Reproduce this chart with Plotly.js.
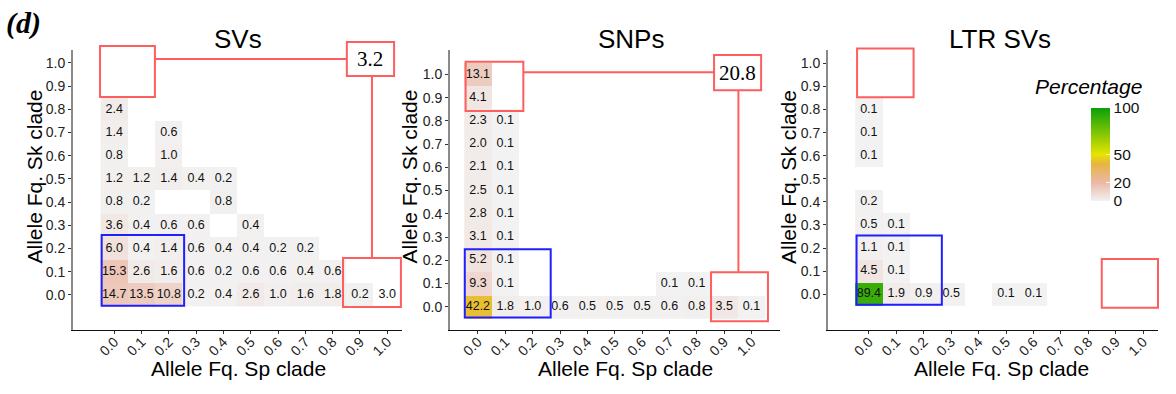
<!DOCTYPE html>
<html><head><meta charset="utf-8">
<script src="https://cdn.plot.ly/plotly-3.0.1.min.js"></script>
<style>html,body{margin:0;padding:0;background:#fff}#chart{width:1176px;height:394px}</style>
</head><body><div id="chart"></div>
<script>
// ---------------- DATA ----------------
const freqs = [0.0,0.1,0.2,0.3,0.4,0.5,0.6,0.7,0.8,0.9,1.0];
const tickLabels = ['0.0','0.1','0.2','0.3','0.4','0.5','0.6','0.7','0.8','0.9','1.0'];
const panelTitles = ['SVs','SNPs','LTR SVs'];
const xTitle = 'Allele Fq. Sp clade';
const yTitle = 'Allele Fq. Sk clade';
const legendTitle = 'Percentage';
const legendTicks = [0,20,50,100];
const cornerTotals = ['3.2','20.8',null];

// rows: Sk clade frequency 0.0 -> 1.0 ; columns: Sp clade frequency 0.0 -> 1.0 (percent)
const svPct = [
  [14.7,13.5,10.8,0.2,0.4,2.6,1.0,1.6,1.8,0.2,3.0],
  [15.3,2.6,1.6,0.6,0.2,0.6,0.6,0.4,0.6],
  [6.0,0.4,1.4,0.6,0.4,0.4,0.2,0.2],
  [3.6,0.4,0.6,0.6,null,0.4],
  [0.8,0.2,null,null,0.8],
  [1.2,1.2,1.4,0.4,0.2],
  [0.8,null,1.0],
  [1.4,null,0.6],
  [2.4],
  [],
  []
];
const snpPct = [
  [42.2,1.8,1.0,0.6,0.5,0.5,0.5,0.6,0.8,3.5,0.1],
  [9.3,0.1,null,null,null,null,null,0.1,0.1],
  [5.2,0.1],
  [3.1,0.1],
  [2.8,0.1],
  [2.5,0.1],
  [2.1,0.1],
  [2.0,0.1],
  [2.3,0.1],
  [4.1],
  [13.1]
];
const ltrPct = [
  [89.4,1.9,0.9,0.5,null,0.1,0.1],
  [4.5,0.1],
  [1.1,0.1],
  [0.5,0.1],
  [0.2],
  [],
  [0.1],
  [0.1],
  [0.1],
  [],
  []
];
// labelled cells drawn without a fill tile in the source figure [x, y]
const unfilledCells = [[[1.0,0.0]],[],[]];

// ---------------- LAYOUT GEOMETRY ----------------
const W = 1176, H = 394;
const FONT = 'Liberation Sans, Arial, sans-serif';
const SERIF = 'Liberation Serif, Times New Roman, serif';
const PANELS = [
  {px:[73,402],  py:[50,330], xr:[-0.151,1.054], yr:[-0.151,1.056], title:[237.5,39], xt:[238.5,368], yt:[34,176.5]},
  {px:[450,780], py:[50,330], xr:[-0.102,1.104], yr:[-0.100,1.105], title:[631,39],   xt:[625,368],   yt:[409,176.5]},
  {px:[828,1158],py:[50,330], xr:[-0.149,1.054], yr:[-0.155,1.058], title:[999.5,39], xt:[1001.5,368],yt:[788,177]}
];
const RED = '#ff5e5e', BLUE = '#1f1fff';
// decoration boxes in each panel's data coordinates
const DECOR = [
  {tl:[-0.052,0.149,0.853,1.073], br:[0.838,1.050,-0.052,0.159], blue:[-0.046,0.256,-0.047,0.259],
   label:[0.852,1.025,0.944,1.090], hy:1.017, vx:0.944},
  {tl:[-0.045,0.166,0.843,1.054], br:[0.852,1.060,-0.062,0.149], blue:[-0.048,0.266,-0.046,0.248],
   label:[0.863,1.035,0.932,1.083], hy:1.009, vx:0.952},
  {tl:[-0.043,0.163,0.853,1.065], br:[0.849,1.054,-0.059,0.153], blue:[-0.045,0.266,-0.046,0.254]}
];

function pad(rows){ return rows.map(r => freqs.map((_,i) => (r[i]===undefined ? null : r[i]))); }
function px2x(p,v){ const d=PANELS[p]; return (d.px[0] + (v-d.xr[0])/(d.xr[1]-d.xr[0])*(d.px[1]-d.px[0]))/W; }
function py2y(p,v){ const d=PANELS[p]; return 1 - (d.py[1] - (v-d.yr[0])/(d.yr[1]-d.yr[0])*(d.py[1]-d.py[0]))/H; }

const datasets = [svPct, snpPct, ltrPct].map(pad);
const colorscale = [[0,'#f2f2f2'],[0.2,'#ebb8a6'],[0.4,'#e8b440'],[0.5,'#e6e400'],[1,'#0aa00a']];

const traces = [];
const layout = {
  width: W, height: H, margin:{l:0,r:0,t:0,b:0,pad:0},
  paper_bgcolor:'#fff', plot_bgcolor:'rgba(0,0,0,0)',
  font:{family:FONT, color:'#000'},
  showlegend:false,
  coloraxis:{cmin:0,cmax:100,colorscale:colorscale,
    colorbar:{x:1091/W, xanchor:'left', y:1-154.5/H, yanchor:'middle', len:93/H, lenmode:'fraction',
      thickness:19, thicknessmode:'pixels', outlinewidth:0, xpad:0, ypad:0,
      tickvals:legendTicks, ticktext:legendTicks.map(String), ticks:'inside', ticklen:4, tickcolor:'rgba(255,255,255,0.9)',
      tickfont:{size:15.5, family:FONT, color:'#111'}, title:{text:''}}},
  shapes:[], annotations:[]
};

datasets.forEach((z, p) => {
  const sfx = p===0 ? '' : String(p+1);
  const d = PANELS[p];
  const zFill = z.map(r => r.slice());
  unfilledCells[p].forEach(([cx,cy]) => { zFill[freqs.indexOf(cy)][freqs.indexOf(cx)] = null; });
  traces.push({type:'heatmap', x:freqs, y:freqs, z:zFill, coloraxis:'coloraxis',
    xaxis:'x'+sfx, yaxis:'y'+sfx, hoverinfo:'skip', xgap:0, ygap:0});
  const tx=[], ty=[], tt=[];
  z.forEach((row, yi) => row.forEach((v, xi) => { if(v!==null){ tx.push(freqs[xi]); ty.push(freqs[yi]); tt.push(v.toFixed(1)); } }));
  traces.push({type:'scatter', mode:'text', x:tx, y:ty, text:tt, xaxis:'x'+sfx, yaxis:'y'+sfx,
    textfont:{size:12.5, family:FONT, color:'#111'}, cliponaxis:false, hoverinfo:'skip'});

  layout['xaxis'+sfx] = {domain:[d.px[0]/W, d.px[1]/W], range:d.xr, anchor:'y'+sfx,
    tickmode:'array', tickvals:freqs, ticktext:tickLabels, tickangle:-45, ticklabelstandoff:-6,
    ticks:'outside', ticklen:3, tickcolor:'#333', tickwidth:1,
    tickfont:{size:14, family:FONT, color:'#222'},
    showline:true, linecolor:'#111', linewidth:1.3, showgrid:false, zeroline:false, fixedrange:true};
  layout['yaxis'+sfx] = {domain:[1-d.py[1]/H, 1-d.py[0]/H], range:d.yr, anchor:'x'+sfx,
    tickmode:'array', tickvals:freqs, ticktext:tickLabels,
    ticks:'outside', ticklen:3, tickcolor:'#333', tickwidth:1,
    tickfont:{size:14, family:FONT, color:'#222'},
    showline:true, linecolor:'#8a8a8a', linewidth:2, showgrid:false, zeroline:false, fixedrange:true};

  // panel title and axis titles
  layout.annotations.push({xref:'paper', yref:'paper', x:d.title[0]/W, y:1-d.title[1]/H,
    text:panelTitles[p], showarrow:false, xanchor:'center', yanchor:'middle', font:{size:26, family:FONT, color:'#000'}});
  layout.annotations.push({xref:'paper', yref:'paper', x:d.xt[0]/W, y:1-d.xt[1]/H,
    text:xTitle, showarrow:false, xanchor:'center', yanchor:'middle', font:{size:21, family:FONT, color:'#000'}});
  layout.annotations.push({xref:'paper', yref:'paper', x:d.yt[0]/W, y:1-d.yt[1]/H, textangle:-90,
    text:yTitle, showarrow:false, xanchor:'center', yanchor:'middle', font:{size:21, family:FONT, color:'#000'}});

  const dec = DECOR[p];
  const rect = (b, color) => ({type:'rect', xref:'paper', yref:'paper',
    x0:px2x(p,b[0]), x1:px2x(p,b[1]), y0:py2y(p,b[2]), y1:py2y(p,b[3]),
    line:{color:color, width:2}, fillcolor:'rgba(0,0,0,0)', layer:'above'});
  layout.shapes.push(rect(dec.blue, BLUE));
  layout.shapes.push(rect(dec.tl, RED));
  layout.shapes.push(rect(dec.br, RED));
  if(dec.label){
    const lb = dec.label;
    layout.shapes.push({type:'line', xref:'paper', yref:'paper', x0:px2x(p,dec.tl[1]), x1:px2x(p,lb[0]),
      y0:py2y(p,dec.hy), y1:py2y(p,dec.hy), line:{color:RED,width:2}});
    layout.shapes.push({type:'line', xref:'paper', yref:'paper', x0:px2x(p,dec.vx), x1:px2x(p,dec.vx),
      y0:py2y(p,lb[2]), y1:py2y(p,dec.br[3]), line:{color:RED,width:2}});
    layout.shapes.push(Object.assign(rect(lb, RED), {fillcolor:'#fff'}));
    layout.annotations.push({xref:'paper', yref:'paper', x:px2x(p,(lb[0]+lb[1])/2), y:py2y(p,(lb[2]+lb[3])/2),
      text:cornerTotals[p], showarrow:false, xanchor:'center', yanchor:'middle',
      font:{size:21, family:SERIF, color:'#000'}});
  }
});

layout.annotations.push({xref:'paper', yref:'paper', x:1088/W, y:1-86/H, text:'<i>'+legendTitle+'</i>',
  showarrow:false, xanchor:'center', yanchor:'middle', font:{size:21, family:FONT, color:'#000'}});
layout.annotations.push({xref:'paper', yref:'paper', x:24/W, y:1-23/H, text:'<b><i>(d)</i></b>',
  showarrow:false, xanchor:'center', yanchor:'middle', font:{size:30, family:SERIF, color:'#000'}});

Plotly.newPlot('chart', traces, layout, {displayModeBar:false, staticPlot:true});
</script></body></html>
